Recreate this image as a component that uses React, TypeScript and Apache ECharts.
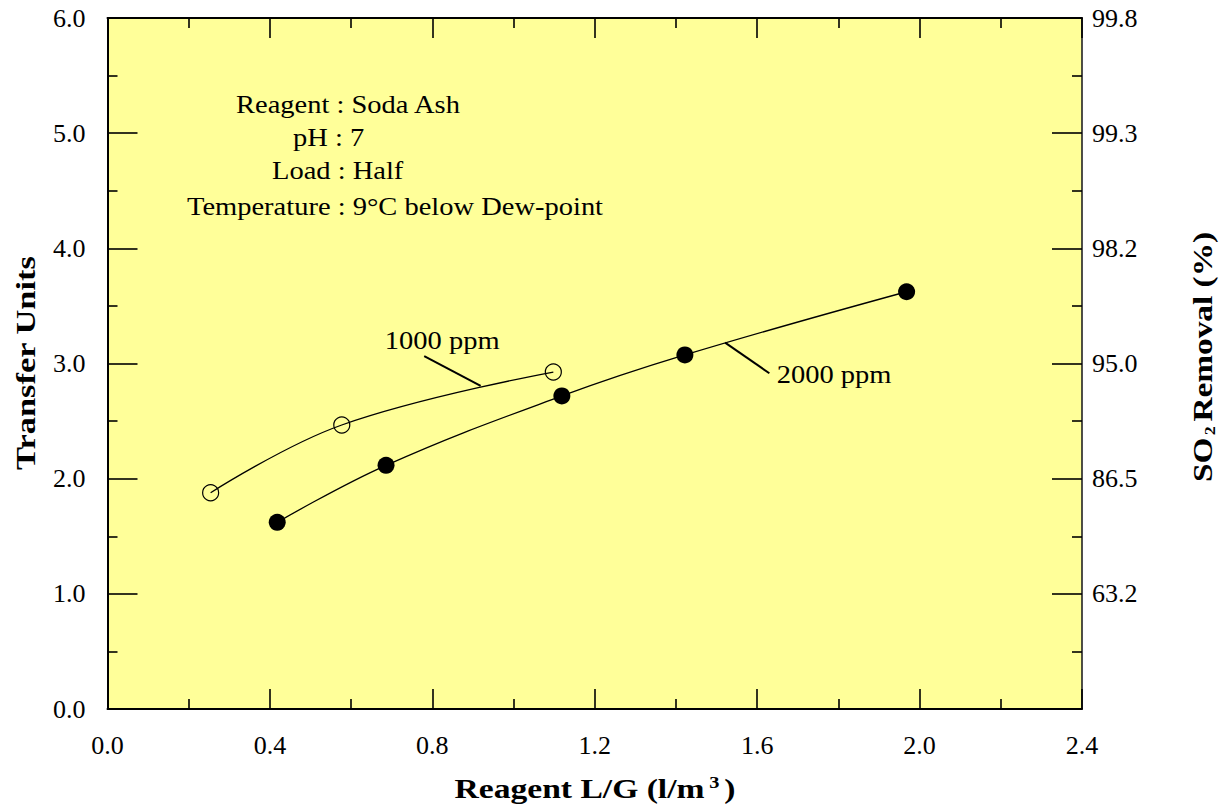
import React, { useEffect, useRef } from 'react';
import * as echarts from 'echarts';

// ---- data ----
const rightAxisLabels = ['', '63.2', '86.5', '95.0', '98.2', '99.3', '99.8'];
const ppm1000X = [0.254, 0.577, 1.098];
const ppm1000Y = [1.878, 2.466, 2.926];
const ppm2000X = [0.418, 0.686, 1.119, 1.422, 1.968];
const ppm2000Y = [1.621, 2.116, 2.718, 3.074, 3.623];
const leader1000 = [[0.780, 3.065], [0.919, 2.805]];
const leader2000 = [[1.521, 3.181], [1.630, 2.915]];
const seriesNames = ['1000 ppm', '2000 ppm'];
const seriesLabelAnchors = [[0.683, 3.198], [1.648, 2.9]];
const conditionLines = [
  'Reagent : Soda Ash',
  'pH : 7',
  'Load : Half',
  'Temperature : 9°C below Dew-point',
];

const FONT = "'Liberation Serif', 'Times New Roman', serif";

export default function App() {
  const ref = useRef<HTMLDivElement>(null);

  useEffect(() => {
    if (!ref.current) return;
    const chart = echarts.init(ref.current, undefined, { renderer: 'svg' });

    const axisLabelStyle = { fontSize: 26, fontFamily: FONT, color: '#000' };
    const tickStyle = { color: '#000', width: 1.6 };
    const makeX = (position: string, showLabel: boolean) => ({
      type: 'value',
      position,
      min: 0,
      max: 2.4,
      interval: 0.4,
      axisLine: { show: true, onZero: false, lineStyle: { color: '#000', width: 2 } },
      axisTick: { show: true, inside: true, length: 20, lineStyle: tickStyle },
      minorTick: { show: true, splitNumber: 2, length: 10, lineStyle: tickStyle },
      splitLine: { show: false },
      minorSplitLine: { show: false },
      axisLabel: showLabel
        ? { ...axisLabelStyle, margin: 23, formatter: (v: number) => v.toFixed(1) }
        : { show: false },
    });
    const makeY = (position: string, lineColor: string, lineWidth: number, label: any) => ({
      type: 'value',
      position,
      min: 0,
      max: 6,
      interval: 1,
      axisLine: { show: true, onZero: false, lineStyle: { color: lineColor, width: lineWidth } },
      axisTick: { show: true, inside: true, length: 30, lineStyle: tickStyle },
      minorTick: { show: true, splitNumber: 2, length: 10, lineStyle: tickStyle },
      splitLine: { show: false },
      minorSplitLine: { show: false },
      axisLabel: label,
    });

    const option: any = {
      animation: false,
      backgroundColor: '#fff',
      grid: {
        left: 107.5,
        right: 145,
        top: 18,
        bottom: 97,
        show: true,
        backgroundColor: '#ffff99',
        borderWidth: 0,
      },
      xAxis: [makeX('bottom', true), makeX('top', false)],
      yAxis: [
        makeY('left', '#000', 2, { ...axisLabelStyle, margin: 22, formatter: (v: number) => v.toFixed(1) }),
        makeY('right', '#222', 1.6, {
          ...axisLabelStyle,
          margin: 10,
          formatter: (v: number) => rightAxisLabels[Math.round(v)] ?? '',
        }),
      ],
      series: [
        {
          name: seriesNames[0],
          type: 'line',
          smooth: 0.4,
          data: ppm1000X.map((x, i) => [x, ppm1000Y[i]]),
          symbol: 'circle',
          symbolSize: 16,
          itemStyle: { color: 'none', borderColor: '#000', borderWidth: 1.2 },
          lineStyle: { color: '#000', width: 1.3 },
          z: 3,
        },
        {
          name: seriesNames[1],
          type: 'line',
          smooth: 0.4,
          data: ppm2000X.map((x, i) => [x, ppm2000Y[i]]),
          symbol: 'circle',
          symbolSize: 17,
          itemStyle: { color: '#000' },
          lineStyle: { color: '#000', width: 1.3 },
          z: 3,
        },
        {
          name: 'leader-1000',
          type: 'line',
          data: leader1000,
          symbol: 'none',
          lineStyle: { color: '#000', width: 2 },
          silent: true,
        },
        {
          name: 'leader-2000',
          type: 'line',
          data: leader2000,
          symbol: 'none',
          lineStyle: { color: '#000', width: 2 },
          silent: true,
        },
      ],
    };

    chart.setOption(option);

    const condX = [236, 293, 272, 187];
    const condY = [105, 138, 171, 207];
    const graphics: any[] = [];
    conditionLines.forEach((t, i) => {
      graphics.push({
        type: 'text',
        x: condX[i],
        y: condY[i],
        scaleX: 1.14,
        style: { text: t, fontSize: 25, fontFamily: FONT, fill: '#000', align: 'left', verticalAlign: 'middle' },
      });
    });
    seriesNames.forEach((t, i) => {
      const p = chart.convertToPixel({ xAxisIndex: 0, yAxisIndex: 0 }, seriesLabelAnchors[i]) as number[];
      graphics.push({
        type: 'text',
        x: p[0],
        y: p[1],
        scaleX: 1.14,
        style: { text: t, fontSize: 25, fontFamily: FONT, fill: '#000', align: 'left', verticalAlign: 'middle' },
      });
    });
    // axis titles
    graphics.push({
      type: 'text',
      x: 595,
      y: 788,
      scaleX: 1.2,
      style: {
        text: '{a|Reagent L/G (l/m}{s|3}{a|)}',
        fill: '#000',
        align: 'center',
        verticalAlign: 'middle',
        rich: {
          a: { fontSize: 28, fontWeight: 'bold', fontFamily: FONT, fill: '#000' },
          s: { fontSize: 17, fontWeight: 'bold', fontFamily: FONT, fill: '#000', verticalAlign: 'top', padding: [0, 4, 0, 4] },
        },
      },
    });
    graphics.push({
      type: 'text',
      x: 26,
      y: 363,
      rotation: Math.PI / 2,
      scaleX: 1.23,
      style: {
        text: 'Transfer Units',
        fontSize: 28,
        fontWeight: 'bold',
        fontFamily: FONT,
        fill: '#000',
        align: 'center',
        verticalAlign: 'middle',
      },
    });
    graphics.push({
      type: 'text',
      x: 1203,
      y: 357,
      rotation: Math.PI / 2,
      scaleX: 1.19,
      style: {
        text: '{a|SO}{s|2}{a|Removal (%)}',
        fill: '#000',
        align: 'center',
        verticalAlign: 'middle',
        rich: {
          a: { fontSize: 28, fontWeight: 'bold', fontFamily: FONT, fill: '#000' },
          s: { fontSize: 15, fontWeight: 'bold', fontFamily: FONT, fill: '#000', verticalAlign: 'bottom', padding: [0, 4, 0, 2] },
        },
      },
    });

    chart.setOption({ graphic: graphics });

    return () => chart.dispose();
  }, []);

  return (
    <div
      ref={ref}
      style={{ position: 'fixed', left: 0, top: 0, width: 1227, height: 806 }}
    />
  );
}
